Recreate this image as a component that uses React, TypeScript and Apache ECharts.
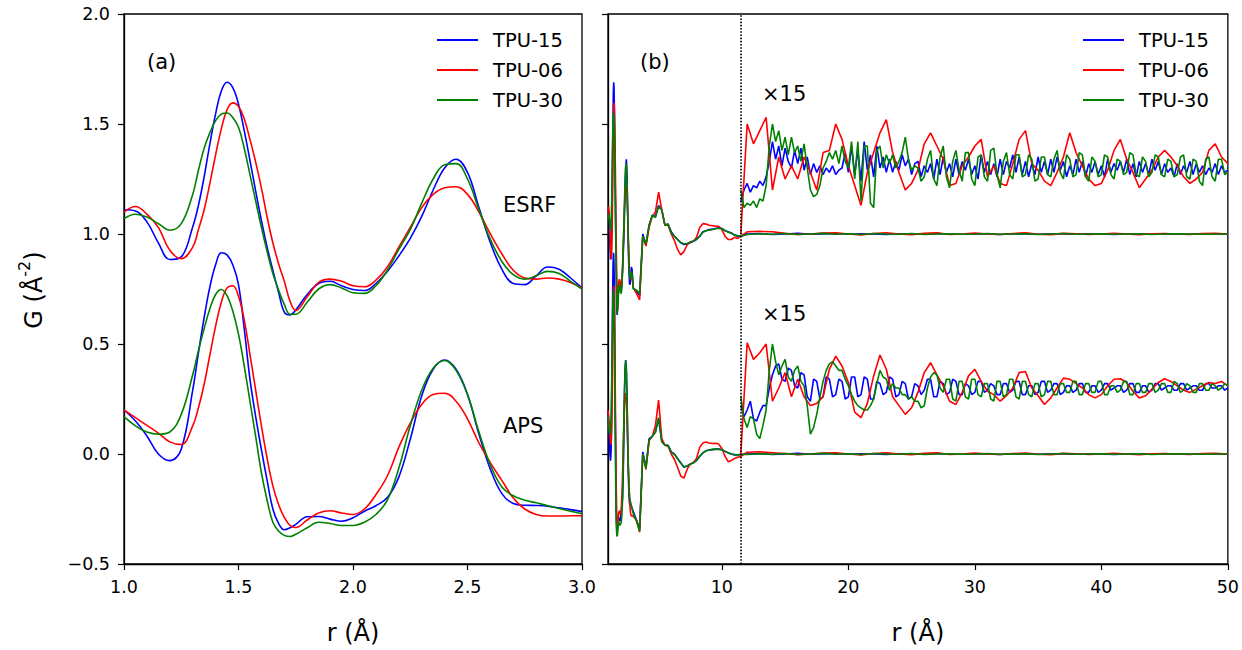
import React, { useEffect, useRef } from "react";
import * as echarts from "echarts";

const FONT = "DejaVu Sans";
const NAMES = ["TPU-15", "TPU-06", "TPU-30"];
const COLORS = ["#0000ff", "#ff0000", "#008000"];
const CUTOFF = 11.5;
const RIGHT_X_TICKS = [10, 20, 30, 40, 50];

// ---- r grids ----
const R_FINE = [
  1.0, 1.05, 1.1, 1.15, 1.2, 1.25, 1.3,
  1.325, 1.35, 1.375, 1.4, 1.425, 1.45, 1.475, 1.5, 1.525, 1.55, 1.575, 1.6, 1.625, 1.65, 1.675, 1.7, 1.725, 1.75,
  1.8, 1.85, 1.9, 1.95, 2.0, 2.05, 2.1, 2.15, 2.2, 2.25, 2.3, 2.35, 2.4, 2.45, 2.5, 2.55, 2.6, 2.65, 2.7, 2.75, 2.8, 2.85, 2.9, 2.95, 3.0,
];
const R_MID = [3.25, 3.5, 3.75, 4, 4.25, 4.5, 4.75, 5, 5.25, 5.5, 5.75, 6, 6.25, 6.5, 6.75, 7, 7.25, 7.5, 7.75, 8, 8.25, 8.5, 8.75, 9, 9.25, 9.5, 9.75, 10, 10.25, 10.5, 10.75, 11, 11.25, 11.5];
const R_TAIL = [12, 13, 14, 15, 16, 17, 18, 19, 20, 21, 22, 23, 24, 25, 26, 27, 28, 29, 30, 31, 32, 33, 34, 35, 36, 37, 38, 39, 40, 41, 42, 43, 44, 45, 46, 47, 48, 49, 50];
const R_MAG_HALF = [11.5, 12, 12.5, 13, 13.5, 14, 14.5, 15, 15.5, 16, 16.5, 17, 17.5, 18, 18.5, 19, 19.5, 20, 20.5, 21, 21.5, 22, 22.5, 23, 23.5, 24, 24.5, 25, 25.5, 26, 26.5, 27, 27.5, 28, 28.5, 29, 29.5, 30, 30.5, 31, 31.5, 32, 32.5, 33, 33.5, 34, 34.5, 35, 35.5, 36, 36.5, 37, 37.5, 38, 38.5, 39, 39.5, 40, 40.5, 41, 41.5, 42, 42.5, 43, 43.5, 44, 44.5, 45, 45.5, 46, 46.5, 47, 47.5, 48, 48.5, 49, 49.5, 50];
const R_MAG_QUARTER = [
  11.5, 11.75, 12, 12.25, 12.5, 12.75, 13, 13.25,
  13.5, 13.75, 14, 14.25, 14.5, 14.75, 15, 15.25,
  15.5, 15.75, 16, 16.25, 16.5, 16.75, 17, 17.25,
  17.5, 17.75, 18, 18.25, 18.5, 18.75, 19, 19.25,
  19.5, 19.75, 20, 20.25, 20.5, 20.75, 21, 21.25,
  21.5, 21.75, 22, 22.25, 22.5, 22.75, 23, 23.25,
  23.5, 23.75, 24, 24.25, 24.5, 24.75, 25, 25.25,
  25.5, 25.75, 26, 26.25, 26.5, 26.75, 27, 27.25,
  27.5, 27.75, 28, 28.25, 28.5, 28.75, 29, 29.25,
  29.5, 29.75, 30, 30.25, 30.5, 30.75, 31, 31.25,
  31.5, 31.75, 32, 32.25, 32.5, 32.75, 33, 33.25,
  33.5, 33.75, 34, 34.25, 34.5, 34.75, 35, 35.25,
  35.5, 35.75, 36, 36.25, 36.5, 36.75, 37, 37.25,
  37.5, 37.75, 38, 38.25, 38.5, 38.75, 39, 39.25,
  39.5, 39.75, 40, 40.25, 40.5, 40.75, 41, 41.25,
  41.5, 41.75, 42, 42.25, 42.5, 42.75, 43, 43.25,
  43.5, 43.75, 44, 44.25, 44.5, 44.75, 45, 45.25,
  45.5, 45.75, 46, 46.25, 46.5, 46.75, 47, 47.25,
  47.5, 47.75, 48, 48.25, 48.5, 48.75, 49, 49.25,
  49.5, 49.75, 50,
];

// ---- ESRF, r = 1..3 ----
const ESRF_15 = [
  1.11, 1.105, 1.055, 0.96, 0.884, 0.896, 1.032,
  1.13, 1.26, 1.41, 1.546, 1.65, 1.69, 1.665, 1.59, 1.47, 1.335, 1.195, 1.062, 0.94, 0.835, 0.735, 0.645, 0.632, 0.655,
  0.725, 0.775, 0.785, 0.765, 0.748, 0.743, 0.775, 0.83, 0.9, 0.98, 1.08, 1.2, 1.3, 1.34, 1.28, 1.12, 0.96, 0.84, 0.775, 0.77, 0.81, 0.85, 0.84, 0.8, 0.755,
];
const ESRF_06 = [
  1.1, 1.125, 1.09, 1.03, 0.926, 0.888, 0.94,
  1.02, 1.11, 1.23, 1.36, 1.478, 1.565, 1.596, 1.58, 1.524, 1.43, 1.327, 1.21, 1.077, 0.96, 0.865, 0.785, 0.695, 0.652,
  0.715, 0.78, 0.795, 0.785, 0.765, 0.76, 0.79, 0.85, 0.94, 1.03, 1.12, 1.18, 1.21, 1.215, 1.18, 1.1, 1.0, 0.91, 0.835, 0.8, 0.795, 0.8, 0.795, 0.78, 0.755,
];
const ESRF_30 = [
  1.07, 1.09, 1.077, 1.047, 1.017, 1.047, 1.18,
  1.29, 1.39, 1.46, 1.515, 1.545, 1.55, 1.53, 1.485, 1.39, 1.27, 1.15, 1.03, 0.92, 0.82, 0.745, 0.68, 0.635, 0.635,
  0.69, 0.75, 0.77, 0.755, 0.733, 0.73, 0.765, 0.835, 0.93, 1.02, 1.14, 1.25, 1.315, 1.32, 1.25, 1.11, 0.975, 0.875, 0.815, 0.795, 0.81, 0.83, 0.82, 0.785, 0.75,
];

// ---- APS, r = 1..3 ----
const APS_15 = [
  0.2, 0.15, 0.082, 0.0, -0.03, 0.022, 0.29,
  0.46, 0.62, 0.76, 0.86, 0.915, 0.905, 0.86, 0.77, 0.57, 0.34, 0.17, 0.02, -0.12, -0.25, -0.315, -0.344, -0.335, -0.32,
  -0.285, -0.284, -0.296, -0.306, -0.29, -0.26, -0.235, -0.198, -0.105, 0.067, 0.264, 0.385, 0.427, 0.385, 0.27, 0.09, -0.07, -0.18, -0.225, -0.233, -0.234, -0.237, -0.245, -0.253, -0.262,
];
const APS_06 = [
  0.2, 0.165, 0.13, 0.095, 0.055, 0.043, 0.128,
  0.21, 0.317, 0.45, 0.581, 0.69, 0.755, 0.765, 0.717, 0.61, 0.453, 0.29, 0.128, -0.02, -0.145, -0.23, -0.288, -0.325, -0.334,
  -0.3, -0.268, -0.258, -0.268, -0.275, -0.25, -0.185, -0.1, 0.03, 0.14, 0.225, 0.27, 0.276, 0.24, 0.16, 0.05, -0.04, -0.12, -0.2, -0.25, -0.275, -0.282, -0.282, -0.281, -0.281,
];
const APS_30 = [
  0.17, 0.128, 0.1, 0.09, 0.1, 0.18, 0.36,
  0.47, 0.57, 0.66, 0.725, 0.748, 0.72, 0.65, 0.545, 0.4, 0.24, 0.08, -0.085, -0.21, -0.31, -0.35, -0.37, -0.375, -0.365,
  -0.335, -0.31, -0.316, -0.325, -0.325, -0.31, -0.275, -0.21, -0.065, 0.128, 0.29, 0.39, 0.425, 0.38, 0.27, 0.1, -0.05, -0.15, -0.19, -0.21, -0.222, -0.235, -0.248, -0.26, -0.272,
];

// ---- r = 3.25..11.5 ----
const ESRF_MID_15 = [0.74, 0.72, 1.0, 0.95, 1.04, 1.085, 1.08, 1.13, 1.11, 1.04, 1.045, 1.01, 0.99, 0.975, 0.96, 0.952, 0.955, 0.96, 0.967, 0.975, 0.99, 1.01, 1.015, 1.02, 1.022, 1.025, 1.028, 1.025, 1.015, 1.01, 1.005, 0.995, 0.99, 0.99];
const ESRF_MID_06 = [0.73, 0.7, 0.99, 0.945, 1.03, 1.08, 1.1, 1.19, 1.11, 1.04, 1.04, 1.0, 0.97, 0.93, 0.905, 0.92, 0.95, 0.965, 0.967, 0.985, 1.03, 1.047, 1.045, 1.04, 1.038, 1.035, 1.035, 1.02, 0.99, 0.975, 0.975, 0.985, 0.98, 0.99];
const ESRF_MID_30 = [0.745, 0.73, 0.99, 0.955, 1.04, 1.085, 1.075, 1.125, 1.11, 1.04, 1.045, 1.005, 0.99, 0.975, 0.962, 0.955, 0.957, 0.962, 0.968, 0.978, 0.99, 1.008, 1.015, 1.018, 1.02, 1.024, 1.026, 1.024, 1.016, 1.008, 1.003, 0.996, 0.992, 0.99];
const APS_MID_15 = [-0.3, -0.34, 0.01, -0.06, 0.07, 0.08, 0.1, 0.16, 0.06, 0.04, 0.04, 0.01, 0.0, -0.02, -0.04, -0.06, -0.055, -0.045, -0.04, -0.03, -0.01, 0.005, 0.015, 0.018, 0.02, 0.022, 0.022, 0.02, 0.012, 0.005, 0.0, -0.004, -0.004, -0.002];
const APS_MID_06 = [-0.3, -0.355, 0.0, -0.07, 0.06, 0.08, 0.13, 0.245, 0.07, 0.04, 0.035, 0.0, -0.025, -0.06, -0.1, -0.11, -0.07, -0.045, -0.04, -0.02, 0.03, 0.05, 0.055, 0.05, 0.048, 0.049, 0.045, 0.025, -0.01, -0.035, -0.03, -0.02, -0.015, -0.01];
const APS_MID_30 = [-0.305, -0.35, 0.0, -0.065, 0.065, 0.08, 0.1, 0.165, 0.055, 0.04, 0.038, 0.008, -0.002, -0.022, -0.042, -0.058, -0.055, -0.047, -0.04, -0.028, -0.01, 0.005, 0.014, 0.018, 0.021, 0.022, 0.021, 0.019, 0.012, 0.006, 0.001, -0.003, -0.004, -0.002];

// ---- r = 12..50 (unscaled) ----
const ESRF_TAIL_15 = [1.0, 1.002, 0.998, 1.0, 1.003, 0.999, 1.0, 1.002, 0.999, 1.001, 1.0, 0.998, 1.001, 1.0, 0.999, 1.002, 1.0, 0.999, 1.001, 1.0, 0.998, 1.001, 1.0, 0.999, 1.001, 1.0, 0.999, 1.001, 1.0, 0.998, 1.0, 1.001, 0.999, 1.0, 1.001, 0.999, 1.0, 1.001, 1.0];
const ESRF_TAIL_06 = [1.01, 1.012, 1.01, 1.003, 0.998, 1.0, 1.004, 1.006, 1.0, 0.996, 1.002, 1.006, 1.0, 0.997, 1.003, 1.005, 0.998, 1.0, 1.004, 1.0, 0.998, 1.002, 1.005, 0.999, 0.997, 1.003, 1.001, 0.998, 1.0, 1.003, 1.0, 0.997, 1.001, 1.002, 1.0, 0.998, 1.002, 1.003, 1.0];
const ESRF_TAIL_30 = [0.998, 1.001, 0.999, 1.002, 0.998, 1.0, 1.003, 0.999, 1.001, 0.998, 1.002, 1.0, 0.999, 1.002, 0.998, 1.0, 1.001, 0.999, 1.0, 1.002, 0.999, 1.0, 1.001, 0.998, 1.0, 1.002, 0.999, 1.0, 1.001, 0.999, 1.0, 1.001, 0.998, 1.0, 1.001, 1.0, 0.999, 1.0, 1.0];
const APS_TAIL_15 = [0.0, 0.002, -0.002, 0.0, 0.003, -0.001, 0.0, 0.002, -0.001, 0.001, 0.0, -0.002, 0.001, 0.0, -0.001, 0.002, 0.0, -0.001, 0.001, 0.0, -0.002, 0.001, 0.0, -0.001, 0.001, 0.0, -0.001, 0.001, 0.0, -0.002, 0.0, 0.001, -0.001, 0.0, 0.001, -0.001, 0.0, 0.001, 0.0];
const APS_TAIL_06 = [0.008, 0.01, 0.006, 0.002, -0.003, 0.0, 0.004, 0.006, 0.0, -0.004, 0.002, 0.005, 0.0, -0.003, 0.003, 0.005, -0.002, 0.0, 0.004, 0.0, -0.002, 0.002, 0.004, -0.001, -0.003, 0.003, 0.001, -0.002, 0.0, 0.003, 0.0, -0.003, 0.001, 0.002, 0.0, -0.002, 0.002, 0.003, 0.0];
const APS_TAIL_30 = [-0.002, 0.001, -0.001, 0.002, -0.002, 0.0, 0.003, -0.001, 0.001, -0.002, 0.002, 0.0, -0.001, 0.002, -0.002, 0.0, 0.001, -0.001, 0.0, 0.002, -0.001, 0.0, 0.001, -0.002, 0.0, 0.002, -0.001, 0.0, 0.001, -0.001, 0.0, 0.001, -0.002, 0.0, 0.001, 0.0, -0.001, 0.0, 0.0];

// ---- x15 magnified, offset curves (as plotted) ----
// TPU-06 on the half-step grid
const ESRF_MAG_06 = [1.0, 1.5, 1.41, 1.47, 1.53, 1.2, 1.35, 1.25, 1.31, 1.25, 1.35, 1.28, 1.2, 1.37, 1.38, 1.5, 1.43, 1.31, 1.22, 1.13, 1.28, 1.37, 1.46, 1.52, 1.37, 1.28, 1.2, 1.23, 1.29, 1.41, 1.46, 1.4, 1.34, 1.22, 1.23, 1.31, 1.35, 1.4, 1.43, 1.26, 1.31, 1.23, 1.22, 1.32, 1.43, 1.47, 1.32, 1.29, 1.24, 1.22, 1.28, 1.35, 1.46, 1.37, 1.31, 1.25, 1.22, 1.23, 1.29, 1.38, 1.43, 1.34, 1.28, 1.21, 1.25, 1.29, 1.35, 1.38, 1.35, 1.31, 1.26, 1.23, 1.25, 1.28, 1.38, 1.41, 1.35, 1.32];
const APS_MAG_06 = [0.0, 0.506, 0.43, 0.46, 0.5, 0.24, 0.3, 0.37, 0.26, 0.34, 0.26, 0.22, 0.23, 0.26, 0.385, 0.445, 0.4, 0.325, 0.19, 0.165, 0.23, 0.355, 0.45, 0.385, 0.26, 0.22, 0.18, 0.21, 0.28, 0.37, 0.415, 0.36, 0.31, 0.24, 0.225, 0.28, 0.355, 0.385, 0.33, 0.285, 0.27, 0.24, 0.265, 0.3, 0.37, 0.375, 0.3, 0.265, 0.225, 0.255, 0.3, 0.345, 0.34, 0.32, 0.3, 0.27, 0.255, 0.27, 0.31, 0.34, 0.342, 0.325, 0.285, 0.255, 0.265, 0.295, 0.325, 0.342, 0.33, 0.31, 0.29, 0.28, 0.295, 0.31, 0.325, 0.32, 0.33, 0.31];
// TPU-15 and TPU-30 on the quarter-step grid
const ESRF_MAG_15 = [
  1.15, 1.2, 1.23, 1.19, 1.22, 1.21, 1.24, 1.22,
  1.26, 1.33, 1.42, 1.34, 1.4, 1.31, 1.39, 1.33,
  1.3, 1.38, 1.32, 1.39, 1.29, 1.35, 1.27, 1.32,
  1.28, 1.31, 1.27, 1.3, 1.28, 1.31, 1.27, 1.29,
  1.3, 1.37, 1.28, 1.4, 1.27, 1.38, 1.24, 1.42,
  1.29, 1.36, 1.26, 1.4, 1.3, 1.35, 1.28, 1.34,
  1.28, 1.33, 1.29, 1.36, 1.31, 1.34, 1.27, 1.32,
  1.33, 1.26, 1.31, 1.28, 1.32, 1.25, 1.34, 1.27,
  1.35, 1.28, 1.32, 1.26, 1.34, 1.27, 1.33, 1.29,
  1.34, 1.27, 1.31, 1.25, 1.36, 1.28, 1.33, 1.27,
  1.32, 1.26, 1.34, 1.27, 1.33, 1.3, 1.36, 1.28,
  1.35, 1.27, 1.33, 1.26, 1.32, 1.27, 1.35, 1.28,
  1.33, 1.27, 1.34, 1.28, 1.35, 1.29, 1.33, 1.26,
  1.31, 1.27, 1.34, 1.28, 1.33, 1.26, 1.32, 1.28,
  1.33, 1.27, 1.31, 1.26, 1.34, 1.28, 1.32, 1.29,
  1.33, 1.28, 1.34, 1.27, 1.32, 1.26, 1.33, 1.28,
  1.32, 1.27, 1.34, 1.29, 1.33, 1.27, 1.32, 1.28,
  1.3, 1.26, 1.32, 1.27, 1.31, 1.28, 1.33, 1.27,
  1.32, 1.28, 1.31, 1.27, 1.3, 1.28, 1.32, 1.27,
  1.31, 1.28, 1.29,
];
const ESRF_MAG_30 = [
  1.2, 1.12, 1.14, 1.13, 1.15, 1.12, 1.16, 1.15,
  1.22, 1.4, 1.5, 1.42, 1.47, 1.38, 1.44, 1.36,
  1.44, 1.37, 1.4, 1.33, 1.41, 1.3, 1.2, 1.17,
  1.18, 1.22, 1.3, 1.33, 1.37, 1.34, 1.38, 1.32,
  1.4, 1.33, 1.3, 1.42, 1.25, 1.42, 1.15, 1.4,
  1.4, 1.14, 1.12, 1.38, 1.4, 1.3, 1.36, 1.32,
  1.36, 1.3, 1.33, 1.37, 1.44, 1.34, 1.29, 1.31,
  1.3, 1.24, 1.26, 1.34, 1.38, 1.25, 1.22, 1.35,
  1.4, 1.26, 1.21, 1.33, 1.38, 1.29, 1.24, 1.37,
  1.37, 1.25, 1.22, 1.35, 1.36, 1.26, 1.24, 1.38,
  1.39, 1.27, 1.21, 1.33, 1.37, 1.27, 1.25, 1.36,
  1.36, 1.26, 1.27, 1.36, 1.34, 1.24, 1.25, 1.35,
  1.35, 1.27, 1.26, 1.34, 1.38, 1.28, 1.25, 1.36,
  1.34, 1.26, 1.27, 1.37, 1.36, 1.26, 1.24, 1.35,
  1.33, 1.26, 1.27, 1.36, 1.35, 1.27, 1.25, 1.34,
  1.33, 1.27, 1.28, 1.37, 1.36, 1.27, 1.26, 1.35,
  1.33, 1.26, 1.28, 1.36, 1.35, 1.27, 1.26, 1.34,
  1.33, 1.26, 1.27, 1.35, 1.36, 1.26, 1.25, 1.34,
  1.33, 1.24, 1.22, 1.34, 1.35, 1.26, 1.24, 1.34,
  1.34, 1.27, 1.28,
];
const APS_MAG_15 = [
  0.22, 0.17, 0.2, 0.24, 0.16, 0.15, 0.19, 0.22,
  0.22, 0.3, 0.36, 0.4, 0.41, 0.34, 0.33, 0.39,
  0.38, 0.31, 0.3, 0.37, 0.36, 0.26, 0.24, 0.34,
  0.33, 0.25, 0.26, 0.35, 0.34, 0.26, 0.27, 0.34,
  0.33, 0.25, 0.26, 0.35, 0.35, 0.26, 0.27, 0.35,
  0.34, 0.25, 0.25, 0.33, 0.32, 0.27, 0.28, 0.35,
  0.34, 0.26, 0.27, 0.33, 0.32, 0.25, 0.26, 0.32,
  0.31, 0.27, 0.29, 0.34, 0.34, 0.26, 0.26, 0.33,
  0.32, 0.27, 0.28, 0.34, 0.33, 0.27, 0.27, 0.32,
  0.31, 0.27, 0.28, 0.33, 0.33, 0.28, 0.29, 0.32,
  0.31, 0.27, 0.27, 0.32, 0.32, 0.28, 0.29, 0.33,
  0.33, 0.27, 0.27, 0.31, 0.31, 0.27, 0.28, 0.33,
  0.33, 0.28, 0.29, 0.32, 0.32, 0.27, 0.28, 0.31,
  0.31, 0.28, 0.29, 0.32, 0.32, 0.28, 0.28, 0.31,
  0.31, 0.28, 0.29, 0.32, 0.32, 0.29, 0.3, 0.31,
  0.31, 0.28, 0.29, 0.32, 0.32, 0.28, 0.28, 0.31,
  0.31, 0.28, 0.29, 0.32, 0.32, 0.29, 0.3, 0.31,
  0.31, 0.29, 0.29, 0.32, 0.32, 0.29, 0.3, 0.31,
  0.31, 0.29, 0.29, 0.32, 0.32, 0.3, 0.3, 0.31,
  0.31, 0.29, 0.3,
];
const APS_MAG_30 = [
  0.26, 0.16, 0.12, 0.17, 0.16, 0.09, 0.07, 0.13,
  0.2, 0.38, 0.5, 0.42, 0.36, 0.4, 0.43, 0.35,
  0.33, 0.38, 0.4, 0.33, 0.31, 0.22, 0.09, 0.12,
  0.18, 0.26, 0.33, 0.38, 0.41, 0.42, 0.4, 0.38,
  0.38, 0.34, 0.31, 0.27, 0.24, 0.22, 0.21, 0.2,
  0.2, 0.22, 0.25, 0.32, 0.38, 0.35, 0.34, 0.29,
  0.32, 0.3, 0.3, 0.27, 0.27, 0.25, 0.26, 0.24,
  0.24, 0.21, 0.22, 0.3, 0.35, 0.37, 0.36, 0.3,
  0.28, 0.34, 0.34, 0.25, 0.24, 0.33, 0.33, 0.26,
  0.25, 0.34, 0.34, 0.27, 0.26, 0.32, 0.32, 0.25,
  0.24, 0.33, 0.33, 0.26, 0.27, 0.34, 0.34, 0.26,
  0.25, 0.33, 0.33, 0.27, 0.26, 0.32, 0.32, 0.26,
  0.27, 0.33, 0.33, 0.27, 0.27, 0.32, 0.32, 0.28,
  0.28, 0.33, 0.33, 0.27, 0.27, 0.32, 0.32, 0.28,
  0.28, 0.33, 0.33, 0.27, 0.27, 0.31, 0.31, 0.28,
  0.29, 0.33, 0.33, 0.27, 0.27, 0.32, 0.32, 0.28,
  0.28, 0.32, 0.32, 0.28, 0.29, 0.32, 0.32, 0.28,
  0.28, 0.33, 0.32, 0.28, 0.29, 0.32, 0.31, 0.28,
  0.28, 0.32, 0.32, 0.29, 0.29, 0.32, 0.31, 0.29,
  0.3, 0.32, 0.31,
];

function pairs(xs: number[], ys: number[]) {
  const n = Math.min(xs.length, ys.length);
  const out: number[][] = [];
  for (let i = 0; i < n; i++) out.push([xs[i], ys[i]]);
  return out;
}

export default function App() {
  const ref = useRef<HTMLDivElement>(null);

  useEffect(() => {
    if (!ref.current) return;
    const chart = echarts.init(ref.current, null, { renderer: "svg" });

    const mk = (name: string, color: string, data: number[][], idx: number, smooth: number | boolean, extra: any = {}) => ({
      type: "line",
      name,
      data,
      xAxisIndex: idx,
      yAxisIndex: idx,
      symbol: "none",
      showSymbol: false,
      smooth,
      silent: true,
      lineStyle: { color, width: 1.6 },
      itemStyle: { color },
      emphasis: { disabled: true },
      ...extra,
    });

    const esrf = [ESRF_15, ESRF_06, ESRF_30];
    const aps = [APS_15, APS_06, APS_30];
    const esrfMid = [ESRF_MID_15, ESRF_MID_06, ESRF_MID_30];
    const apsMid = [APS_MID_15, APS_MID_06, APS_MID_30];
    const esrfTail = [ESRF_TAIL_15, ESRF_TAIL_06, ESRF_TAIL_30];
    const apsTail = [APS_TAIL_15, APS_TAIL_06, APS_TAIL_30];
    const esrfMag = [pairs(R_MAG_QUARTER, ESRF_MAG_15), pairs(R_MAG_HALF, ESRF_MAG_06), pairs(R_MAG_QUARTER, ESRF_MAG_30)];
    const apsMag = [pairs(R_MAG_QUARTER, APS_MAG_15), pairs(R_MAG_HALF, APS_MAG_06), pairs(R_MAG_QUARTER, APS_MAG_30)];

    const series: any[] = [];
    for (let i = 0; i < 3; i++) series.push(mk(NAMES[i], COLORS[i], pairs(R_FINE, esrf[i]), 0, 0.4));
    for (let i = 0; i < 3; i++) series.push(mk(NAMES[i], COLORS[i], pairs(R_FINE, aps[i]), 0, 0.4));
    for (let i = 0; i < 3; i++) {
      const d = pairs(R_FINE, esrf[i]).concat(pairs(R_MID, esrfMid[i]), pairs(R_TAIL, esrfTail[i]));
      const extra =
        i === 0
          ? {
              markLine: {
                silent: true,
                symbol: ["none", "none"],
                label: { show: false },
                lineStyle: { color: "#000", type: "dotted", width: 1.6 },
                data: [{ xAxis: CUTOFF }],
              },
            }
          : {};
      series.push(mk(NAMES[i], COLORS[i], d, 1, false, extra));
    }
    for (let i = 0; i < 3; i++) {
      const d = pairs(R_FINE, aps[i]).concat(pairs(R_MID, apsMid[i]), pairs(R_TAIL, apsTail[i]));
      series.push(mk(NAMES[i], COLORS[i], d, 1, false));
    }
    for (let i = 0; i < 3; i++) series.push(mk(NAMES[i], COLORS[i], esrfMag[i], 1, false));
    for (let i = 0; i < 3; i++) series.push(mk(NAMES[i], COLORS[i], apsMag[i], 1, false));

    const tickLabel = { fontFamily: FONT, fontSize: 17.5, color: "#000" };
    const axisLine = { show: true, onZero: false, lineStyle: { color: "#000", width: 1.3 } };
    const axisTick = { show: true, inside: false, length: 6, lineStyle: { color: "#000", width: 1.2 } };
    const nameStyle = { fontFamily: FONT, fontSize: 24, color: "#000" };
    const yFmt = (v: number) => v.toFixed(1).replace("-", "\u2212");

    const legendBase = {
      data: NAMES,
      orient: "vertical",
      top: 30,
      padding: 0,
      itemGap: 10,
      itemWidth: 41,
      itemHeight: 2,
      icon: "rect",
      selectedMode: false,
      textStyle: { fontFamily: FONT, fontSize: 19.5, color: "#000", lineHeight: 19, padding: [0, 0, 0, 10] },
    };

    const txt = (x: number, y: number, text: string, size: number) => ({
      type: "text",
      x,
      y,
      silent: true,
      style: { text, fontFamily: FONT, fontSize: size, fill: "#000", align: "left", verticalAlign: "middle" },
    });

    chart.setOption({
      animation: false,
      backgroundColor: "#fff",
      grid: [
        { left: 124, right: 660, top: 14, bottom: 85, show: true, borderColor: "#000", borderWidth: 1.3, containLabel: false },
        { left: 608, right: 14, top: 14, bottom: 85, show: true, borderColor: "#000", borderWidth: 1.3, containLabel: false },
      ],
      legend: [
        { ...legendBase, left: 437 },
        { ...legendBase, left: 1083 },
      ],
      xAxis: [
        {
          type: "value",
          gridIndex: 0,
          min: 1,
          max: 3,
          interval: 0.5,
          axisLine,
          axisTick,
          splitLine: { show: false },
          axisLabel: { ...tickLabel, margin: 14, showMinLabel: true, showMaxLabel: true, formatter: (v: number) => v.toFixed(1) },
          name: "r (\u00c5)",
          nameLocation: "middle",
          nameGap: 57,
          nameTextStyle: nameStyle,
        },
        {
          type: "value",
          gridIndex: 1,
          min: 1,
          max: 50,
          axisLine,
          axisTick: { ...axisTick, customValues: RIGHT_X_TICKS },
          splitLine: { show: false },
          axisLabel: { ...tickLabel, margin: 14, customValues: RIGHT_X_TICKS, formatter: (v: number) => String(v) },
          name: "r (\u00c5)",
          nameLocation: "middle",
          nameGap: 57,
          nameTextStyle: nameStyle,
        },
      ],
      yAxis: [
        {
          type: "value",
          gridIndex: 0,
          min: -0.5,
          max: 2.0,
          interval: 0.5,
          axisLine,
          axisTick,
          splitLine: { show: false },
          axisLabel: { ...tickLabel, margin: 14, showMinLabel: true, showMaxLabel: true, formatter: yFmt },
        },
        {
          type: "value",
          gridIndex: 1,
          min: -0.5,
          max: 2.0,
          interval: 0.5,
          axisLine,
          axisTick,
          splitLine: { show: false },
          axisLabel: { show: false },
        },
      ],
      graphic: [
        txt(147, 62, "(a)", 21),
        txt(640, 62, "(b)", 21),
        txt(503, 205, "ESRF", 21),
        txt(503, 426, "APS", 21),
        txt(762, 94, "\u00d715", 21),
        txt(762, 314, "\u00d715", 21),
        {
          type: "text",
          x: 31,
          y: 290,
          rotation: Math.PI / 2,
          silent: true,
          style: {
            text: "{b|G (\u00c5}{s|-2}{b|)}",
            fontFamily: FONT,
            fontSize: 24,
            fill: "#000",
            align: "center",
            verticalAlign: "middle",
            rich: {
              b: { fontFamily: FONT, fontSize: 24, lineHeight: 30, verticalAlign: "bottom", fill: "#000" },
              s: { fontFamily: FONT, fontSize: 16, lineHeight: 16, verticalAlign: "top", fill: "#000" },
            },
          },
        },
      ],
      series,
    });

    return () => chart.dispose();
  }, []);

  return (
    <div
      ref={ref}
      style={{ position: "absolute", left: 0, top: 0, width: 1242, height: 650, background: "#fff" }}
    />
  );
}
